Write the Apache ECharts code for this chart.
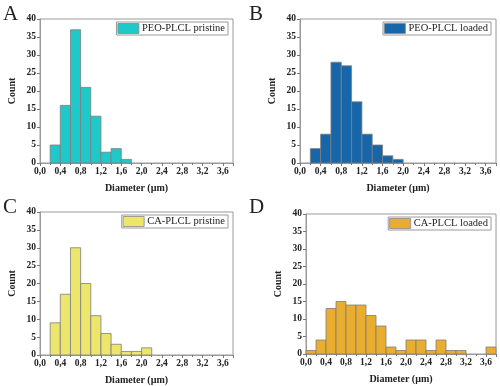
<!DOCTYPE html>
<html><head><meta charset="utf-8">
<script src="https://cdn.jsdelivr.net/npm/echarts@6/dist/echarts.min.js"></script>
<style>html,body{margin:0;padding:0;background:#fff}#c{width:500px;height:386px}</style>
</head><body><div id="c"></div>
<script>
// bin left edges (µm), bin width 0.2
const binWidth = 0.2;
const binsA = [0.2,0.4,0.6,0.8,1.0,1.2,1.4,1.6];
const countsA = [5,16,37,21,13,3,4,1];
const binsB = [0.2,0.4,0.6,0.8,1.0,1.2,1.4,1.6,1.8];
const countsB = [4,8,28,27,17,8,5,2,1];
const binsC = [0.2,0.4,0.6,0.8,1.0,1.2,1.4,1.6,1.8,2.0];
const countsC = [9,17,30,20,11,6,3,1,1,2];
const binsD = [0.0,0.2,0.4,0.6,0.8,1.0,1.2,1.4,1.6,1.8,2.0,2.2,2.4,2.6,2.8,3.0,3.2,3.4,3.6];
const countsD = [1,4,13,15,14,14,11,8,2,1,4,4,1,4,1,1,0,0,2];
const namesP = ['PEO-PLCL pristine','PEO-PLCL loaded','CA-PLCL pristine','CA-PLCL loaded'];
const colorsP = ['#1fc9c9','#1766a9','#ede66c','#e9ae2f'];
const lettersP = ['A','B','C','D'];
const xTicks = ['0,0','0,4','0,8','1,2','1,6','2,0','2,4','2,8','3,2','3,6'];

const font = '"Liberation Serif","Times New Roman",serif';
const grids = [
  {left:40, top:19, width:193, height:144},
  {left:300, top:19, width:196, height:144},
  {left:40, top:212, width:193, height:143},
  {left:306, top:214, width:190, height:140}
];
const allBins = [binsA,binsB,binsC,binsD];
const allCounts = [countsA,countsB,countsC,countsD];

const option = {animation:false, grid:[], xAxis:[], yAxis:[], series:[], legend:[], graphic:[]};
grids.forEach((g,i)=>{
  option.grid.push(Object.assign({show:true, borderColor:'#9a9a9a', borderWidth:1, backgroundColor:'#fff'}, g));
  option.xAxis.push({type:'value', gridIndex:i, min:0, max:3.8, interval:0.4,
    name:'Diameter (µm)', nameLocation:'middle', nameGap:20,
    nameTextStyle:{fontFamily:font, fontWeight:'bold', fontSize:10, color:'#222'},
    axisLine:{show:true, onZero:false, lineStyle:{color:'#9a9a9a'}},
    axisTick:{show:true, length:3, lineStyle:{color:'#777'}},
    minorTick:{show:true, splitNumber:2, length:2, lineStyle:{color:'#777'}},
    splitLine:{show:false},
    axisLabel:{fontFamily:font, fontWeight:'bold', fontSize:9.5, color:'#222', margin:4,
      formatter:(v)=>{const k=Math.round(v/0.4); return (k>=0 && k<xTicks.length && Math.abs(v-k*0.4)<1e-6)?xTicks[k]:'';}}
  });
  option.yAxis.push({type:'value', gridIndex:i, min:0, max:40, interval:5,
    name:'Count', nameLocation:'middle', nameGap:23,
    nameTextStyle:{fontFamily:font, fontWeight:'bold', fontSize:10, color:'#222'},
    axisLine:{show:true, lineStyle:{color:'#9a9a9a'}},
    axisTick:{show:true, length:3, lineStyle:{color:'#777'}},
    splitLine:{show:false},
    axisLabel:{fontFamily:font, fontWeight:'bold', fontSize:9.5, color:'#222', margin:4}
  });
  const data = allBins[i].map((b,j)=>[b, b+binWidth, allCounts[i][j]]);
  option.series.push({type:'custom', name:namesP[i], xAxisIndex:i, yAxisIndex:i,
    itemStyle:{color:colorsP[i]},
    encode:{x:[0,1], y:2},
    renderItem:(params, api)=>{
      const p0 = api.coord([api.value(0), 0]);
      const p1 = api.coord([api.value(1), api.value(2)]);
      if (api.value(2) <= 0) return null;
      return {type:'rect', shape:{x:p0[0], y:p1[1], width:p1[0]-p0[0], height:p0[1]-p1[1]},
        style:{fill:colorsP[i], stroke:'#7d7d7d', lineWidth:0.8}};
    },
    data:data
  });
  option.legend.push({data:[{name:namesP[i], icon:'rect'}], right: 500-(g.left+g.width)+5, top:g.top+3,
    orient:'vertical', itemWidth:21, itemHeight:10, itemGap:0,
    padding:[1,3,1,1], borderColor:'#9a9a9a', borderWidth:1, backgroundColor:'#fff',
    itemStyle:{color:colorsP[i], borderColor:'#888', borderWidth:0.8},
    textStyle:{fontFamily:font, fontSize:10.5, color:'#222', padding:[0,0,0,-2]},
    selectedMode:false});
});
const letterPos = [[3,4],[249,4],[3,197],[249,197]];
letterPos.forEach((p,i)=>{
  option.graphic.push({type:'text', left:p[0], top:p[1], style:{text:lettersP[i], font:'21px '+font, fill:'#222'}});
});
const chart = echarts.init(document.getElementById('c'), null, {renderer:'canvas'});
chart.setOption(option);
</script></body></html>
